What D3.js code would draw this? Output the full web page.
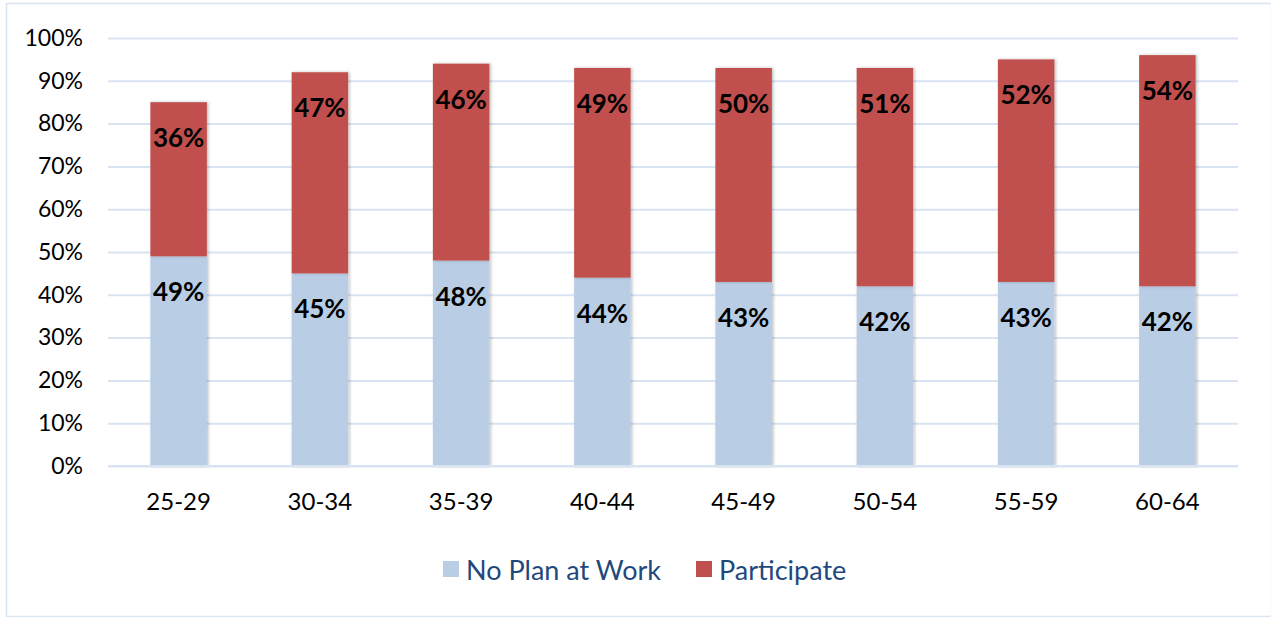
<!DOCTYPE html>
<html>
<head>
<meta charset="utf-8">
<script src="https://cdn.jsdelivr.net/npm/d3@7"></script>
<style>
  html, body { margin: 0; padding: 0; background: #fff; }
  svg { display: block; }
</style>
</head>
<body>
<svg id="chart" width="1271" height="617"></svg>
<script>
// Age groups and the share of workers in each retirement-plan status
const ageGroups = ["25-29", "30-34", "35-39", "40-44", "45-49", "50-54", "55-59", "60-64"];
const noPlanAtWork = [49, 45, 48, 44, 43, 42, 43, 42];
const participate = [36, 47, 46, 49, 50, 51, 52, 54];
const yTicks = [0, 10, 20, 30, 40, 50, 60, 70, 80, 90, 100];
const seriesNames = ["No Plan at Work", "Participate"];
const seriesColors = ["#b9cde5", "#c0504d"];

const svg = d3.select("#chart");
const W = 1271, H = 617;
const font = "Lato, 'Open Sans', sans-serif";

// outer chart frame
svg.append("rect")
  .attr("x", 6.5).attr("y", 3.5)
  .attr("width", W - 6).attr("height", H - 4)
  .attr("fill", "#fff").attr("stroke", "#d9e4f2").attr("stroke-width", 1.5);

const plot = { left: 108, right: 1238, top: 38, bottom: 466 };

const x = d3.scaleBand().domain(ageGroups)
  .range([plot.left, plot.right]).paddingInner(0.6).paddingOuter(0.3);
const y = d3.scaleLinear().domain([0, 100]).range([plot.bottom, plot.top]);

const defs = svg.append("defs");
const shadow = defs.append("filter").attr("id", "barShadow")
  .attr("x", "-20%").attr("y", "-5%").attr("width", "140%").attr("height", "110%");
shadow.append("feDropShadow").attr("dx", 1.5).attr("dy", 0).attr("stdDeviation", 1.5)
  .attr("flood-color", "#000").attr("flood-opacity", 0.25);

// horizontal gridlines and y tick labels
const yAxis = d3.axisLeft(y).tickValues(yTicks).tickFormat(d => d + "%")
  .tickSize(-(plot.right - plot.left)).tickPadding(25);
const gy = svg.append("g").attr("transform", `translate(${plot.left},0)`).call(yAxis);
gy.select(".domain").remove();
gy.selectAll(".tick line").attr("stroke", "#d9e4f2").attr("stroke-width", 2);
gy.selectAll(".tick text")
  .attr("font-family", font).attr("font-size", 23).attr("fill", "#000");

// stacked data
const rows = ageGroups.map((g, i) => ({ group: g, noPlan: noPlanAtWork[i], participate: participate[i] }));
const stack = d3.stack().keys(["noPlan", "participate"])(rows);

const layers = svg.append("g").selectAll("g").data(stack).join("g")
  .attr("fill", (d, i) => seriesColors[i]);

layers.selectAll("rect").data(d => d).join("rect")
  .attr("x", d => x(d.data.group))
  .attr("width", x.bandwidth())
  .attr("y", d => y(d[1]))
  .attr("height", d => y(d[0]) - y(d[1]))
  .attr("filter", "url(#barShadow)");

// value labels near the top of each segment
layers.each(function (layer) {
  d3.select(this).selectAll("text").data(layer).join("text")
    .attr("x", d => x(d.data.group) + x.bandwidth() / 2)
    .attr("y", d => y(d[1]) + 35)
    .attr("text-anchor", "middle").attr("dominant-baseline", "central")
    .attr("font-family", font).attr("font-weight", "bold").attr("font-size", 26)
    .attr("fill", "#000")
    .text(d => (d[1] - d[0]) + "%");
});

// category axis labels
const xAxis = d3.axisBottom(x).tickSize(0).tickPadding(27);
const gx = svg.append("g").attr("transform", `translate(0,${plot.bottom})`).call(xAxis);
gx.select(".domain").attr("stroke", "#d9e4f2").attr("stroke-width", 2)
  .attr("d", `M${plot.left},0H${plot.right}`);
gx.selectAll(".tick text")
  .attr("font-family", font).attr("font-size", 24).attr("fill", "#000");

// legend
const legendItems = [
  { name: seriesNames[0], color: seriesColors[0], x: 443 },
  { name: seriesNames[1], color: seriesColors[1], x: 696 }
];
const lg = svg.append("g").selectAll("g").data(legendItems).join("g")
  .attr("transform", d => `translate(${d.x},569)`);
lg.append("rect").attr("x", 0).attr("y", -8).attr("width", 16).attr("height", 16)
  .attr("fill", d => d.color);
lg.append("text").attr("x", 23).attr("y", 0).attr("dominant-baseline", "central")
  .attr("font-family", font).attr("font-size", 27).attr("fill", "#1f497d")
  .text(d => d.name);
</script>
</body>
</html>
